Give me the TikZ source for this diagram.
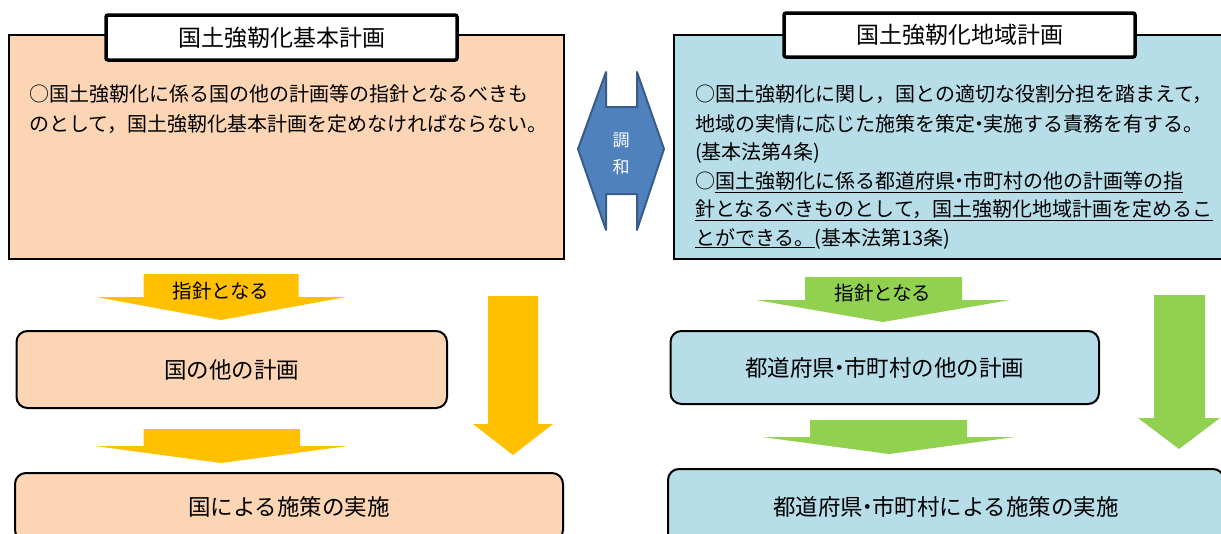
\documentclass[tikz,border=0pt]{standalone}
\usepackage{fontspec}
\setmainfont{Noto Sans CJK JP}
\definecolor{peach}{HTML}{FCD5B5}
\definecolor{lblue}{HTML}{B7DDE8}
\definecolor{orangeA}{HTML}{FFC000}
\definecolor{greenA}{HTML}{92D050}
\definecolor{blueA}{HTML}{4F81BD}
\definecolor{blueB}{HTML}{385D8A}
\newcommand{\nakaten}{\kern-0.3em・\kern-0.3em}
\tikzset{
  bigbox/.style={draw=black, line width=2pt, inner sep=0pt},
  titlebox/.style={draw=black, fill=white, line width=3.5pt, rounded corners=2pt, inner sep=0pt, font=\fontsize{23pt}{26pt}\selectfont},
  roundbox/.style={draw=black, line width=2pt, rounded corners=11pt, inner sep=0pt, font=\fontsize{22.5pt}{26pt}\selectfont},
  body/.style={font=\fontsize{20pt}{24pt}\selectfont, inner sep=0pt, anchor=west},
  arrlabel/.style={font=\fontsize{19.5pt}{22pt}\selectfont, inner sep=0pt},
}
\begin{document}
\begin{tikzpicture}[x=1pt,y=-1pt]
\useasboundingbox (0,0) rectangle (1221,533);
\clip (0,0) rectangle (1221,533);
% ---- left big box
\node[bigbox, fill=peach, minimum width=555pt, minimum height=224pt] (basic) at (286.5,147) {};
\node[titlebox, minimum width=351pt, minimum height=45pt] (basicT) at (281.5,37.5) {国土強靭化基本計画};
\node[body] (bl1) at (29,94) {○国土強靭化に係る国の他の計画等の指針となるべきも};
\node[body] (bl2) at (29,124) {のとして，国土強靭化基本計画を定めなければならない。};
% ---- right big box
\node[bigbox, fill=lblue, minimum width=550pt, minimum height=224pt] (region) at (949,147) {};
\node[titlebox, minimum width=351pt, minimum height=44pt] (regionT) at (959.5,35) {国土強靭化地域計画};
\node[body] (rl1) at (695,94) {○国土強靭化に関し，国との適切な役割分担を踏まえて，};
\node[body] (rl2) at (695,123.5) {地域の実情に応じた施策を策定\nakaten 実施する責務を有する。};
\node[body] (rl3) at (695,153) {(基本法第4条)};
\node[body] (rl4) at (695,182) {○\underline{国土強靭化に係る都道府県\nakaten 市町村の他の計画等の指}};
\node[body] (rl5) at (695,210.5) {\underline{針となるべきものとして，国土強靭化地域計画を定めるこ}};
\node[body] (rl6) at (695,238.5) {\underline{とができる。}(基本法第13条)};
% ---- harmony double arrow
\filldraw[fill=blueA, draw=blueB, line width=2pt, line join=round]
  (578,149) -- (606,72) -- (606,107) -- (637,107) -- (637,72) -- (664,149)
  -- (637,230) -- (637,194) -- (606,194) -- (606,230) -- cycle;
\node[font=\fontsize{17pt}{20pt}\selectfont, text=white, inner sep=0pt] (ch1) at (621,140) {調};
\node[font=\fontsize{17pt}{20pt}\selectfont, text=white, inner sep=0pt] (ch2) at (621,167) {和};
% ---- left lower part
\fill[orangeA] (143.5,274) -- (298.5,274) -- (298.5,297) -- (346,297) -- (221,320) -- (96,297) -- (143.5,297) -- cycle;
\node[arrlabel] (gl) at (221,291) {指針となる};
\node[roundbox, fill=peach, minimum width=430.5pt, minimum height=77pt] (natplan) at (231.75,369.5) {国の他の計画};
\fill[orangeA] (143.5,429) -- (300,429) -- (300,446) -- (348,446) -- (221,463) -- (95,446) -- (143.5,446) -- cycle;
\fill[orangeA] (488,296) -- (538,296) -- (538,424) -- (553,424) -- (513,455) -- (473,424) -- (488,424) -- cycle;
\node[roundbox, fill=peach, minimum width=548pt, minimum height=68pt] (natimpl) at (289,507) {国による施策の実施};
% ---- right lower part
\fill[greenA] (805,277) -- (962,277) -- (962,300) -- (1010,300) -- (883,322) -- (756,300) -- (805,300) -- cycle;
\node[arrlabel] (gr) at (883,293) {指針となる};
\node[roundbox, fill=lblue, minimum width=428.5pt, minimum height=73pt] (locplan) at (884.75,367.5) {都道府県\nakaten 市町村の他の計画};
\fill[greenA] (810,420) -- (967,420) -- (967,437) -- (1015,437) -- (889,454) -- (762,437) -- (810,437) -- cycle;
\fill[greenA] (1154,295) -- (1205,295) -- (1205,418) -- (1220,418) -- (1179,449) -- (1138,418) -- (1154,418) -- cycle;
\node[roundbox, fill=lblue, minimum width=556pt, minimum height=76pt] (locimpl) at (946,507) {都道府県\nakaten 市町村による施策の実施};
\end{tikzpicture}
\end{document}
